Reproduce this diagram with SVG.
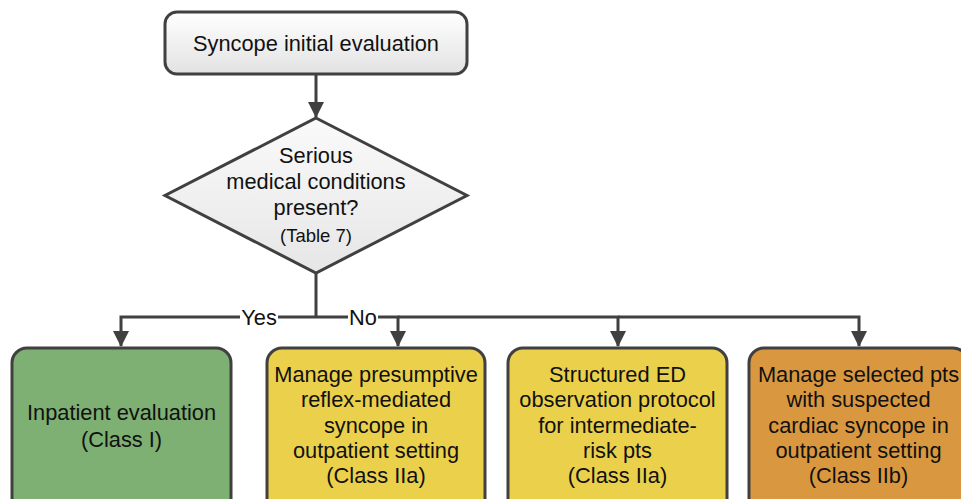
<svg xmlns="http://www.w3.org/2000/svg" width="961" height="499" viewBox="0 0 961 499">
<defs>
<linearGradient id="gTop" x1="0" y1="0" x2="0" y2="1">
<stop offset="0" stop-color="#ffffff"/>
<stop offset="1" stop-color="#e2e2e2"/>
</linearGradient>
<linearGradient id="gDia" x1="0" y1="0" x2="0" y2="1">
<stop offset="0" stop-color="#fafafa"/>
<stop offset="1" stop-color="#e6e6e6"/>
</linearGradient>
<marker id="arr" markerUnits="userSpaceOnUse" markerWidth="16" markerHeight="18" viewBox="0 0 16 18" refX="15" refY="8" orient="auto">
<path d="M0 0 L16 8 L0 16 Z" fill="#404040"/>
</marker>
</defs>
<style>
.t{font-family:"Liberation Sans",Arial,sans-serif;font-size:21.8px;fill:#111;text-anchor:middle}
.s{font-size:18.5px}
.box{stroke:#404040;stroke-width:3}
.ln{fill:none;stroke:#404040;stroke-width:3}
</style>
<rect width="961" height="499" fill="#ffffff"/>
<g id="connectors">
<path class="ln" d="M316 74 V117" marker-end="url(#arr)"/>
<path class="ln" d="M316 273 V317"/>
<path class="ln" d="M316 317 H121 V346" marker-end="url(#arr)"/>
<path class="ln" d="M316 317 H398 V346" marker-end="url(#arr)"/>
<path class="ln" d="M398 317 H618 V346" marker-end="url(#arr)"/>
<path class="ln" d="M618 317 H859 V346" marker-end="url(#arr)"/>
<rect x="240" y="308" width="38" height="18" fill="#ffffff"/>
<text class="t" x="259" y="325">Yes</text>
<rect x="348" y="308" width="30" height="18" fill="#ffffff"/>
<text class="t" x="363" y="325">No</text>
</g>
<g id="start">
<rect class="box" x="165" y="12" width="302" height="62" rx="12" fill="url(#gTop)"/>
<text class="t" x="316" y="51">Syncope initial evaluation</text>
</g>
<g id="decision">
<polygon class="box" points="316,118 467,195.5 316,273 165,195.5" fill="url(#gDia)"/>
<text class="t" x="316" y="163">Serious</text>
<text class="t" x="316" y="189">medical conditions</text>
<text class="t" x="316" y="215">present?</text>
<text class="t s" x="316" y="241.5">(Table 7)</text>
</g>
<g id="inpatient">
<rect class="box" x="12" y="348" width="219" height="170" rx="15" fill="#7db072"/>
<text class="t" x="121.5" y="420">Inpatient evaluation</text>
<text class="t" x="121.5" y="446.5">(Class I)</text>
</g>
<g id="reflex">
<rect class="box" x="267" y="348" width="218" height="170" rx="15" fill="#ebd04c"/>
<text class="t" x="376" y="382">Manage presumptive</text>
<text class="t" x="376" y="407.3">reflex-mediated</text>
<text class="t" x="376" y="432.6">syncope in</text>
<text class="t" x="376" y="457.9">outpatient setting</text>
<text class="t" x="376" y="483.2">(Class IIa)</text>
</g>
<g id="observation">
<rect class="box" x="508" y="348" width="219" height="170" rx="15" fill="#ebd04c"/>
<text class="t" x="617.5" y="382">Structured ED</text>
<text class="t" x="617.5" y="407.3">observation protocol</text>
<text class="t" x="617.5" y="432.6">for intermediate-</text>
<text class="t" x="617.5" y="457.9">risk pts</text>
<text class="t" x="617.5" y="483.2">(Class IIa)</text>
</g>
<g id="cardiac">
<rect class="box" x="749" y="348" width="219" height="170" rx="15" fill="#d99840"/>
<text class="t" x="858.5" y="382">Manage selected pts</text>
<text class="t" x="858.5" y="407.3">with suspected</text>
<text class="t" x="858.5" y="432.6">cardiac syncope in</text>
<text class="t" x="858.5" y="457.9">outpatient setting</text>
<text class="t" x="858.5" y="483.2">(Class IIb)</text>
</g>
</svg>
